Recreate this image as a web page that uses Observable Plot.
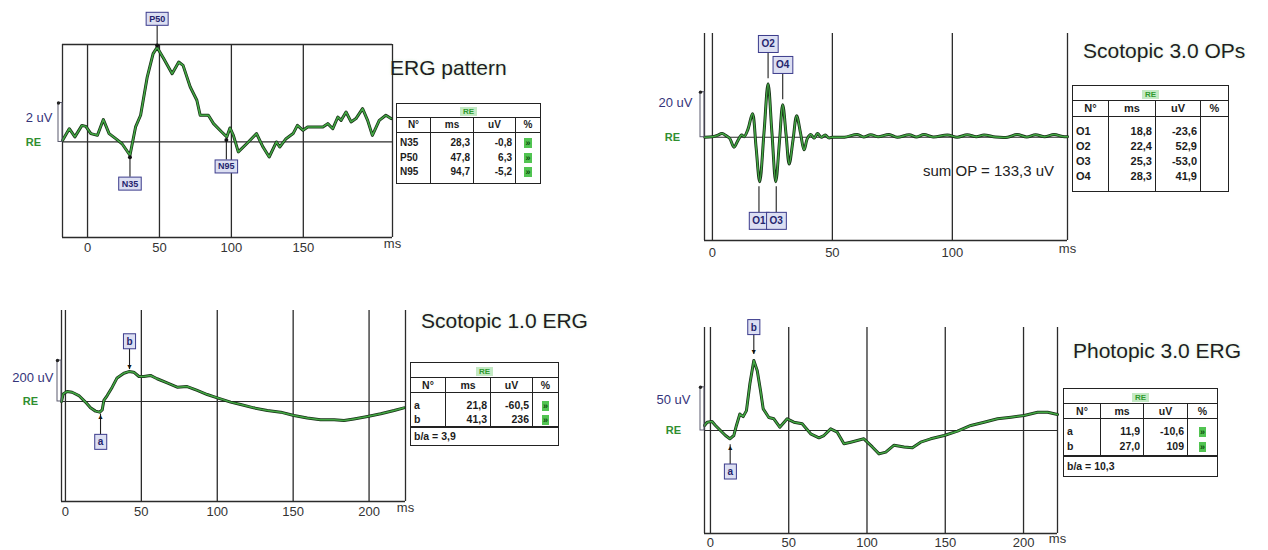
<!DOCTYPE html>
<html><head><meta charset="utf-8">
<script src="https://cdn.jsdelivr.net/npm/d3@7"></script>
<script src="https://cdn.jsdelivr.net/npm/@observablehq/plot@0.6"></script>
<style>
body{margin:0;background:#fff;}
#root{position:relative;width:1268px;height:550px;overflow:hidden;background:#fff;font-family:"Liberation Sans",Arial,sans-serif;}
.pnl{position:absolute;}
.title{position:absolute;white-space:nowrap;color:#1e1e1e;font-family:"Liberation Sans",Arial,sans-serif;line-height:1;text-shadow:0 0 3px rgba(130,200,130,0.35);}
.note{position:absolute;white-space:nowrap;color:#222;font-family:"Liberation Sans",Arial,sans-serif;line-height:1;}
table.erg{position:absolute;border-collapse:collapse;table-layout:fixed;font-family:"Liberation Sans",Arial,sans-serif;font-weight:bold;color:#1c1c1c;border:1.5px solid #222;background:#fff;}
table.erg td{border-left:1.3px solid #222;border-right:1.3px solid #222;padding:0 3px;white-space:nowrap;overflow:hidden;line-height:1;}
table.erg tr.re td{border:1.3px solid #222;text-align:center;}
table.erg tr.hd td{border:1.3px solid #222;text-align:center;}
table.erg td.num{text-align:right;}
table.erg td.nm{text-align:left;}
table.erg td.pc{text-align:center;}
table.erg tr.ft td{border:1.3px solid #222;border-top:2.2px solid #222;text-align:left;font-weight:bold;}
.re span{color:#2f9a2f;background:#c4eac4;font-size:8px;padding:0 3px;}
.ok{display:inline-block;background:#52c452;color:#0f4f0f;font-size:9px;line-height:10px;padding:0 1px;}
</style></head>
<body><div id="root"></div>
<script>
// ================= DATA =================
// ERG pattern (uV vs ms)
const patternMs = [-17.4,-12.7,-8.8,-3.9,-1.2,2.3,6.9,11,15,19.6,24,29.5,33.4,36.9,41.5,45.6,48.4,53,58.8,63.4,66.4,71.4,76,78.3,84,87.6,93.3,96.8,99,101.4,104.8,110.6,117.5,122,126.3,131.3,133.6,138,142.9,145.9,149.8,153,163.6,167,170.5,174,176.3,179.7,183.2,186.6,191.2,194.7,198,202.8,207.4,211];
const patternUv = [0.08,0.68,0.26,0.85,0.8,0.43,0.34,1.15,0.43,0.17,-0.09,-0.68,0.77,1.37,3.33,4.53,4.85,4.27,3.5,4.1,3.93,2.82,2.14,1.37,1.37,0.94,0.51,0.26,0.72,0.34,-0.51,-0.09,0.43,-0.26,-0.77,0,-0.26,0.17,0.43,0.85,0.6,0.77,0.77,0.94,0.68,1.28,1.11,1.54,1.03,1.2,1.71,1.11,0.34,1.11,1.37,1.2];
const patternMarkers = [
  {label: "N35", ms: 29.5, uV: -0.68, side: "below"},
  {label: "P50", ms: 48.4, uV: 4.85, side: "above"},
  {label: "N95", ms: 96.5, uV: 0.2, side: "below"}
];
const patternNames = ["N35", "P50", "N95"];
const patternLatency = ["28,3", "47,8", "94,7"];
const patternAmp = ["-0,8", "6,3", "-5,2"];
const patternFlag = [true, true, true];

// Scotopic 3.0 OPs
const opsMs = [-3.2,0,2,4,5.8,7.2,9,10.6,12.2,13.2,14.8,16.7,18.2,19.7,21.5,23.2,24.8,26.4,27.9,29.3,30.7,32,33.6,35.1,36.7,38.2,39.6,41,42.4,43.8,45.4,47,48.5,50,55,60.4,63,66,69,73.6,77,82,85,88.2,92,98,102,106.2,110,113.2,118,123,127,131,134.7,138.5,142.4,146,148];
const opsUv = [0,0.2,0.8,1.6,0.6,-0.5,-4.4,-1.5,1.0,0.2,3.5,10.4,-4.5,-19.7,2,23.7,2,-19.7,-2.5,14.4,1.2,-11.9,-1.2,9.5,2,-5.6,-0.5,1.2,-0.4,1.6,0,1,-0.3,0,0,1.2,0.1,1.1,0.2,1.2,0,1.1,0.1,1.2,0.1,1,0,1.1,0.2,1,0.1,0,1.2,0.1,1.1,0.2,1.2,0.3,0.2];
const opsMarkers = [
  {label: "O1", ms: 19.4, uV: -19.7, side: "below"},
  {label: "O2", ms: 23.2, uV: 23.7, side: "above"},
  {label: "O3", ms: 26.6, uV: -19.7, side: "below"},
  {label: "O4", ms: 29.3, uV: 14.4, side: "above"}
];
const opsNames = ["O1", "O2", "O3", "O4"];
const opsLatency = ["18,8", "22,4", "25,3", "28,3"];
const opsAmp = ["-23,6", "52,9", "-53,0", "41,9"];
const opsFlag = [false, false, false, false];
const opsSum = "sum OP = 133,3 uV";

// Scotopic 1.0 ERG
const scot1Ms = [-2.6,-1.5,1.1,4.4,8.8,13.2,16.5,19.8,22.6,24.2,25.3,27.5,30.8,34,38.5,41.8,45,48.4,51.6,56,60.4,67,73.6,80.2,86.8,93.4,100,108.8,115.4,124,133,141.8,150.5,159.3,168,177,183.5,190,199,207.7,216.5,223];
const scot1Uv = [0,37,49,45,29,-3,-31,-47,-52,-41,5,29,70,115,138,146,143,122,122,127,111,91,70,73,54,34,18,-3,-15,-31,-44,-52,-68,-81,-89,-89,-93,-85,-73,-60,-44,-31];
const scot1Markers = [
  {label: "a", ms: 23.1, uV: -52, side: "below"},
  {label: "b", ms: 42.2, uV: 146, side: "above"}
];
const scot1Names = ["a", "b"];
const scot1Latency = ["21,8", "41,3"];
const scot1Amp = ["-60,5", "236"];
const scot1Flag = [true, true];
const scot1Ratio = "b/a = 3,9";

// Photopic 3.0 ERG
const photMs = [-3.8,-2.1,1,3.2,6.4,9.6,12.4,14.9,16.6,18.8,20.9,23,25.2,27.7,29.9,32,33.7,37.3,40.5,44.3,49,53.3,58.6,64,69.3,72.5,76.8,81,85.3,89.6,93.8,98,103.4,107.7,112,117.3,123.7,129,134.3,140.7,149.3,157.8,166.3,174.8,183.4,192,200.4,209,215.4,221.7];
const photUv = [5.8,9.6,10.4,5.8,0,-5.8,-9.6,-5.8,5.8,19,16,23,54,81,69,46,25,15,13.5,3.8,13.5,9.6,7.7,-3.8,-8.5,-5.8,1.9,-1.9,-15.4,-13.5,-11.5,-9.6,-19,-27,-25,-17,-19,-20,-13.5,-9.6,-5.8,-0.8,5.8,9.6,13.5,15.4,17.3,21,21,18.5];
const photMarkers = [
  {label: "a", ms: 12.6, uV: -9.6, side: "below"},
  {label: "b", ms: 27.7, uV: 81, side: "above"}
];
const photNames = ["a", "b"];
const photLatency = ["11,9", "27,0"];
const photAmp = ["-10,6", "109"];
const photFlag = [true, true];
const photRatio = "b/a = 10,3";

const titles = ["ERG pattern", "Scotopic 3.0 OPs", "Scotopic 1.0 ERG", "Photopic 3.0 ERG"];
const tableHeader = ["N°", "ms", "uV", "%"];

// ================= DRAWING =================
const root = document.getElementById("root");
const SVGNS = "http://www.w3.org/2000/svg";
const GRID = "#2b2b2b";

function markerMarks(markers, mk) {
  const out = [];
  const {gap, len, boxH, style, fontSize} = mk;
  for (const side of ["above", "below"]) {
    const group = markers.filter(m => m.side === side);
    if (!group.length) continue;
    const s = side === "above" ? -1 : 1;
    out.push(Plot.ruleX(group, {x: "ms", y1: "uV", y2: "uV", stroke: "#1e1e1e", strokeWidth: 1.1,
      insetTop: s < 0 ? -(gap + len) : gap, insetBottom: s < 0 ? gap : -(gap + len)}));
    if (style === "arrow") out.push(Plot.text(group, {x: "ms", y: "uV", text: () => (s < 0 ? "▼" : "▲"), dy: s * (gap + 3), fontSize: 7, fill: "#111"}));
    if (style === "dot") out.push(Plot.dot(group, {x: "ms", y: "uV", dy: s * gap, r: 2, fill: "#111"}));
    out.push(Plot.text(group, {x: "ms", y: "uV", text: "label", dy: s * (gap + len + boxH / 2), fill: "#25256e", fontSize, fontWeight: "bold", ariaDescription: "marker-label"}));
  }
  return out;
}

function drawPanel(cfg) {
  const [xmin, xmax] = cfg.xDomain;
  const trace = cfg.ms.map((m, i) => ({ms: m, uV: cfg.uv[i]}));
  const marks = [
    Plot.ruleX(cfg.grid, {stroke: GRID, strokeWidth: 1.3}),
    Plot.ruleX([xmin, xmax], {stroke: GRID, strokeWidth: 1.3}),
    Plot.ruleY([cfg.yDomain[0]], {stroke: GRID, strokeWidth: 1.6}),
    Plot.ruleY([0], {stroke: GRID, strokeWidth: 1.2})
  ];
  if (cfg.topFrame) marks.push(Plot.ruleY([cfg.yDomain[1]], {stroke: GRID, strokeWidth: 1.5}));
  marks.push(Plot.line(trace, {x: "ms", y: "uV", stroke: "#173017", strokeWidth: 3, curve: cfg.curve}));
  marks.push(Plot.line(trace, {x: "ms", y: "uV", stroke: "#43a843", strokeWidth: 1.5, curve: cfg.curve}));
  marks.push(Plot.rect([cfg.scale], {x1: () => xmin, x2: () => xmin, y1: () => 0, y2: d => d, insetLeft: -4, insetRight: 0, fill: "none", stroke: "#5a5a6e", strokeWidth: 1}));
  marks.push(Plot.dot([cfg.scale], {x: () => xmin, y: d => d, dx: -4, r: 1.7, fill: "#222"}));
  marks.push(Plot.text([cfg.scale], {x: () => xmin, y: d => d, text: () => cfg.scaleLabel, textAnchor: "end", dx: cfg.labelDx, dy: cfg.labelDy, fill: "#34347a", fontSize: 13}));
  marks.push(Plot.text([0], {x: () => xmin, y: d => d, text: () => "RE", dx: cfg.reDx, fill: "#2f8f2f", fontSize: 11, fontWeight: "bold"}));
  marks.push(Plot.text([xmax], {x: d => d, frameAnchor: "bottom", dy: cfg.tickPad + 5, text: () => "ms", fill: "#333", fontSize: 13}));
  marks.push(...markerMarks(cfg.markers, cfg.mk));

  const svg = Plot.plot({
    width: cfg.width, height: cfg.height,
    marginLeft: cfg.margins[0], marginRight: cfg.margins[1], marginTop: cfg.margins[2], marginBottom: cfg.margins[3],
    x: {domain: cfg.xDomain, ticks: cfg.grid, tickSize: 0, tickPadding: cfg.tickPad, label: null},
    y: {domain: cfg.yDomain, axis: null},
    style: {fontFamily: "Liberation Sans, Arial, sans-serif", fontSize: "13px", color: "#333", background: "transparent", overflow: "visible"},
    marks
  });
  const wrap = document.createElement("div");
  wrap.className = "pnl";
  Object.assign(wrap.style, {left: cfg.left + "px", top: cfg.top + "px", width: cfg.width + "px", height: cfg.height + "px"});
  wrap.appendChild(svg);
  root.appendChild(wrap);
  // frame the marker labels with boxes, measured from the rendered text
  svg.querySelectorAll('g[aria-description="marker-label"] text').forEach(t => {
    const b = t.getBBox();
    const r = document.createElementNS(SVGNS, "rect");
    const px = cfg.mk.padX, py = cfg.mk.padY;
    r.setAttribute("x", b.x - px); r.setAttribute("y", b.y - py);
    r.setAttribute("width", b.width + 2 * px); r.setAttribute("height", b.height + 2 * py);
    if (t.getAttribute("transform")) r.setAttribute("transform", t.getAttribute("transform"));
    r.setAttribute("fill", "#dcdff2"); r.setAttribute("stroke", "#3b3b8c"); r.setAttribute("stroke-width", "1");
    t.parentNode.insertBefore(r, t);
  });
}

function drawTable(cfg) {
  const t = document.createElement("table");
  t.className = "erg";
  const w = cfg.cols.reduce((a, b) => a + b, 0);
  Object.assign(t.style, {left: cfg.left + "px", top: cfg.top + "px", width: w + "px", fontSize: cfg.font + "px"});
  let h = "<colgroup>" + cfg.cols.map(c => `<col style="width:${c}px">`).join("") + "</colgroup>";
  h += `<tr class="re" style="height:${cfg.hRE}px"><td colspan="4"><span>RE</span></td></tr>`;
  h += `<tr class="hd" style="height:${cfg.hHead}px">` + tableHeader.map(s => `<td>${s}</td>`).join("") + "</tr>";
  const n = cfg.names.length;
  cfg.names.forEach((nm, i) => {
    const pt = i === 0 ? cfg.padTop : 0, pb = i === n - 1 ? cfg.padBottom : 0;
    const st = `style="padding-top:${pt}px;padding-bottom:${pb}px;height:${cfg.rowH}px"`;
    h += `<tr class="row"><td class="nm" ${st}>${nm}</td><td class="num" ${st}>${cfg.lat[i]}</td><td class="num" ${st}>${cfg.amp[i]}</td><td class="pc" ${st}>${cfg.flag[i] ? '<span class="ok">»</span>' : ""}</td></tr>`;
  });
  if (cfg.footer) h += `<tr class="ft" style="height:${cfg.hFoot}px"><td colspan="4">${cfg.footer}</td></tr>`;
  t.innerHTML = h;
  root.appendChild(t);
}

function addText(cls, txt, left, top, size) {
  const d = document.createElement("div");
  d.className = cls; d.textContent = txt;
  Object.assign(d.style, {left: left + "px", top: top + "px", fontSize: size + "px"});
  root.appendChild(d);
}

// Panel 1: ERG pattern
drawPanel({ms: patternMs, uv: patternUv, xDomain: [-17.4, 212], yDomain: [-4.9, 5.0], grid: [0, 50, 100, 150],
  left: 0, top: 0, width: 400, height: 265, margins: [62, 8, 44, 28], topFrame: true, tickPad: 5, curve: "linear",
  scale: 2, scaleLabel: "2 uV", labelDx: -10, labelDy: 15, reDx: -29,
  markers: patternMarkers, mk: {gap: 2, len: 20, boxH: 13, style: "dot", fontSize: 9, padX: 3, padY: 1.5}});
// Panel 2: Scotopic 3.0 OPs
drawPanel({ms: opsMs, uv: opsUv, xDomain: [-3.3, 148], yDomain: [-45.8, 46], grid: [0, 50, 100],
  left: 600, top: 0, width: 475, height: 265, margins: [104, 8, 33, 25], topFrame: false, tickPad: 7, curve: "catmull-rom",
  scale: 20, scaleLabel: "20 uV", labelDx: -12, labelDy: 11, reDx: -32,
  markers: opsMarkers, mk: {gap: 5, len: 26, boxH: 17, style: "none", fontSize: 10, padX: 3, padY: 3}});
// Panel 3: Scotopic 1.0 ERG
drawPanel({ms: scot1Ms, uv: scot1Uv, xDomain: [-2.6, 224], yDomain: [-488, 444], grid: [0, 50, 100, 150, 200],
  left: 0, top: 280, width: 420, height: 250, margins: [61, 15, 30, 29], topFrame: false, tickPad: 5, curve: "linear",
  scale: 200, scaleLabel: "200 uV", labelDx: -8, labelDy: 17, reDx: -31,
  markers: scot1Markers, mk: {gap: 2, len: 21, boxH: 14, style: "arrow", fontSize: 10, padX: 3, padY: 2}});
// Panel 4: Photopic 3.0 ERG
drawPanel({ms: photMs, uv: photUv, xDomain: [-3.8, 221.7], yDomain: [-119, 119], grid: [0, 50, 100, 150, 200],
  left: 600, top: 300, width: 470, height: 250, margins: [104, 13, 27, 17], topFrame: false, tickPad: 4, curve: "linear",
  scale: 50, scaleLabel: "50 uV", labelDx: -14, labelDy: 13, reDx: -31,
  markers: photMarkers, mk: {gap: 6, len: 20, boxH: 14, style: "arrow", fontSize: 10, padX: 3, padY: 2}});

// Tables
drawTable({left: 396, top: 103, cols: [34, 43, 42, 25], font: 10, hRE: 14, hHead: 15, rowH: 14.5, padTop: 3, padBottom: 3.5,
  names: patternNames, lat: patternLatency, amp: patternAmp, flag: patternFlag});
drawTable({left: 1072, top: 85, cols: [36, 47, 45, 28], font: 11, hRE: 15, hHead: 16, rowH: 15, padTop: 7, padBottom: 7,
  names: opsNames, lat: opsLatency, amp: opsAmp, flag: opsFlag});
drawTable({left: 410, top: 362, cols: [35, 45, 42, 26], font: 10.5, hRE: 15, hHead: 15, rowH: 14, padTop: 5, padBottom: 0,
  names: scot1Names, lat: scot1Latency, amp: scot1Amp, flag: scot1Flag, footer: scot1Ratio, hFoot: 18});
drawTable({left: 1063, top: 388, cols: [37, 43, 44, 30], font: 10.5, hRE: 15, hHead: 15, rowH: 15, padTop: 5, padBottom: 1,
  names: photNames, lat: photLatency, amp: photAmp, flag: photFlag, footer: photRatio, hFoot: 20});

// Titles and note
addText("title", titles[0], 390, 57, 21);
addText("title", titles[1], 1083, 40, 21);
addText("title", titles[2], 421, 310, 21);
addText("title", titles[3], 1073, 340, 21);
addText("note", opsSum, 923, 163, 15);
</script>
</body></html>
